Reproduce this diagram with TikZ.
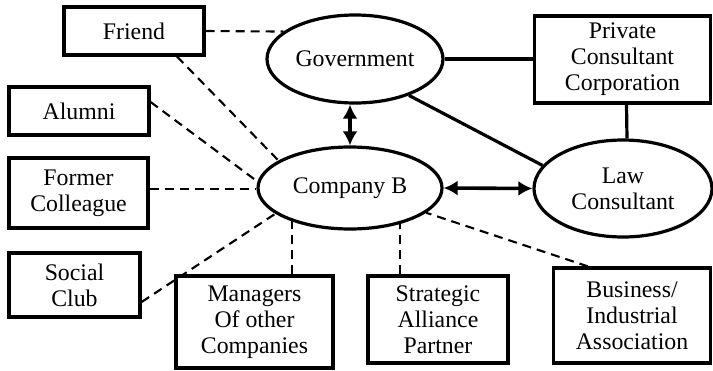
\documentclass[tikz,border=0pt]{standalone}
\usepackage{fontspec}
\setmainfont{Liberation Serif}
\usetikzlibrary{shapes.geometric,arrows.meta}
\begin{document}
\begin{tikzpicture}[x=1pt,y=-1pt,
  every node/.style={font=\fontsize{23.8}{26}\selectfont, align=center, inner sep=0pt},
  box/.style={draw, line width=3.2pt, rectangle},
  oval/.style={draw, line width=3.2pt, ellipse},
  dsh/.style={line width=2.1pt, dash pattern=on 9pt off 6pt},
  sol/.style={line width=3.2pt},
  dbl/.style={line width=3.6pt, {Latex[length=14pt,width=15pt]}-{Latex[length=14pt,width=15pt]}}
]
\useasboundingbox (0,0) rectangle (713,370);
\node[box, minimum width=140pt, minimum height=48pt] (friend) at (134,31) {Friend};
\node[box, minimum width=140pt, minimum height=48pt] (alumni) at (79,111) {Alumni};
\node[box, minimum width=139pt, minimum height=70pt] (former) at (78.5,193) {Former\\Colleague};
\node[box, minimum width=131pt, minimum height=64pt] (social) at (74.5,285) {Social\\Club};
\node[box, minimum width=157pt, minimum height=92pt] (managers) at (254.5,322) {Managers\\Of other\\Companies};
\node[box, minimum width=140pt, minimum height=87pt] (strategic) at (438,319.5) {Strategic\\Alliance\\Partner};
\node[box, minimum width=157pt, minimum height=95pt] (business) at (632,315.5) {Business/\\Industrial\\Association};
\node[box, minimum width=176pt, minimum height=87pt] (private) at (622.5,59.5) {Private\\Consultant\\Corporation};
\node[oval, minimum width=176pt, minimum height=88pt] (gov) at (355,59) {Government};
\node[oval, minimum width=184pt, minimum height=82pt] (comp) at (350,188) {Company B};
\node[oval, minimum width=178pt, minimum height=97pt] (law) at (623,188.5) {Law\\Consultant};

% solid connectors
\draw[sol] (gov.east) -- (gov.east -| private.west);
\draw[sol] (gov.326) -- (law.164);
\draw[sol] ([xshift=4pt]private.south) -- ([xshift=4pt]law.north);

% double arrows
\draw[dbl] (comp.north) -- (comp.north |- gov.south);
\draw[dbl] (comp.east) -- (law.west);

% dashed connectors
\draw[dsh] (friend.east) -- (gov.159);
\draw[dsh] ([xshift=43pt]friend.south) -- (comp.159);
\draw[dsh] ([yshift=9pt]alumni.east) -- (comp.176);
\draw[dsh] ([yshift=4pt]former.east) -- ([yshift=4pt]former.east -| comp.west);
\draw[dsh] ([yshift=-17pt]social.east) -- (comp.199);
\draw[dsh] (managers.north -| comp.210) -- (comp.210);
\draw[dsh] (strategic.north -| comp.324) -- (comp.324);
\draw[dsh] ([xshift=-44pt]business.north) -- (comp.342);
\end{tikzpicture}
\end{document}
